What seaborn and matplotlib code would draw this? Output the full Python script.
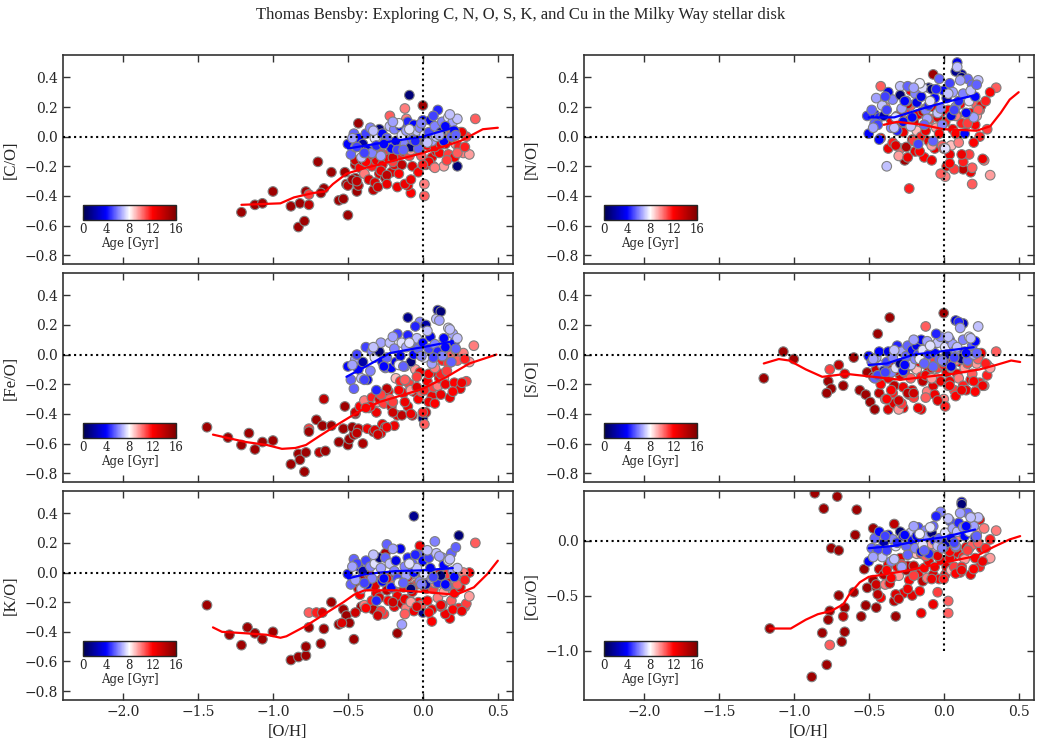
import numpy as np
import pandas as pd
import matplotlib
matplotlib.use("Agg")
import matplotlib.pyplot as plt
import seaborn as sns

sns.set_style("ticks")
plt.rcParams['font.family'] = ['DejaVu Serif']

TITLE = "Thomas Bensby: Exploring C, N, O, S, K, and Cu in the Milky Way stellar disk"
XLABEL = "[O/H]"
AGE_LABEL = "Age [Gyr]"
AGE_TICKS = [0, 4, 8, 12, 16]

# ---------------- young disk stars: [O/H] and age ----------------
young_oh = [-0.50, -0.48, -0.46, -0.45, -0.43, -0.41, -0.40, -0.38, -0.37, -0.35,
            -0.34, -0.32, -0.31, -0.29, -0.28, -0.27, -0.25, -0.24, -0.22, -0.21,
            -0.19, -0.18, -0.17, -0.15, -0.14, -0.12, -0.11, -0.10, -0.08, -0.07,
            -0.06, -0.04, -0.03, -0.02, 0.00, 0.01, 0.02, 0.04, 0.05, 0.06,
            0.08, 0.09, 0.10, 0.12, 0.13, 0.14, 0.16, 0.17, 0.19, 0.20,
            0.21, 0.23, -0.44, -0.16,
            -0.47, -0.39, -0.33, -0.26, -0.20, -0.13, -0.09, -0.05, -0.01, 0.03,
            0.07, 0.11, 0.15, 0.18, 0.22]
young_age = [4.0, 5.5, 5.5, 6.5, 4.0, 7.0, 2.0, 5.0, 3.5, 6.0,
             6.0, 7.5, 4.5, 1.0, 6.5, 4.0, 5.5, 5.5, 7.0, 4.0,
             6.0, 3.5, 5.0, 3.5, 7.5, 6.0, 6.5, 4.5, 1.0, 5.5,
             4.0, 7.0, 5.5, 6.0, 4.0, 7.5, 2.0, 5.0, 3.5, 6.5,
             6.0, 7.0, 4.5, 1.0, 6.0, 4.0, 5.5, 7.5, 5.5, 6.5,
             4.0, 7.0, 5.0, 7.8,
             6.5, 5.0, 7.0, 4.0, 6.5, 5.5, 7.5, 4.5, 6.0, 7.0,
             5.0, 6.5, 4.0, 7.0, 5.5]
young_co = [-0.05, -0.12, 0.02, -0.07, -0.01, -0.14, -0.05, 0.02, -0.09, 0.06,
            -0.11, -0.01, -0.06, 0.05, -0.13, 0.02, -0.03, -0.01, 0.07, -0.08,
            0.05, -0.03, -0.09, 0.07, 0.01, -0.05, 0.04, 0.10, -0.07, -0.02,
            0.08, 0.04, -0.08, 0.06, 0.11, 0.01, -0.03, 0.03, 0.11, -0.03,
            0.07, 0.00, 0.18, 0.03, 0.10, -0.03, 0.07, 0.13, 0.00, 0.10,
            0.04, 0.12, -0.07, 0.09,
            -0.01, -0.11, 0.04, -0.05, 0.10, -0.09, 0.05, -0.03, 0.09, -0.04,
            0.14, 0.01, 0.07, 0.15, 0.01]
young_no = [0.02, 0.18, 0.09, 0.26, -0.02, 0.21, 0.14, 0.18, 0.30, 0.06,
            0.25, 0.13, 0.04, 0.28, 0.19, 0.10, 0.24, 0.34, 0.07, 0.13,
            0.29, 0.23, -0.05, 0.27, 0.33, 0.18, 0.12, 0.21, 0.32, -0.03,
            0.26, 0.16, 0.39, 0.19, 0.31, -0.08, 0.26, 0.36, 0.14, 0.30,
            0.20, 0.47, 0.24, 0.40, 0.29, 0.02, 0.39, 0.24, 0.35, 0.13,
            0.27, 0.38, 0.08, 0.36,
            0.06, 0.27, 0.06, 0.24, 0.33, 0.08, 0.24, 0.32, 0.08, 0.29,
            0.18, 0.38, 0.16, 0.31, 0.35]
young_feo = [-0.08, -0.17, -0.23, -0.03, -0.10, -0.16, -0.05, 0.05, -0.17, -0.11,
             0.02, -0.02, -0.24, 0.02, 0.08, -0.05, -0.09, -0.02, 0.08, -0.09,
             0.04, -0.05, 0.14, -0.01, 0.08, -0.08, 0.05, 0.13, -0.05, 0.08,
             0.00, 0.11, 0.04, 0.22, 0.08, -0.02, 0.20, 0.04, 0.12, -0.06,
             0.07, 0.24, 0.02, 0.29, -0.01, 0.11, 0.05, 0.18, -0.05, 0.14,
             0.08, 0.11, 0.00, -0.07,
             -0.07, -0.17, 0.05, -0.08, 0.12, -0.08, 0.08, 0.19, -0.01, 0.16,
             -0.02, 0.23, 0.05, 0.17, 0.04]
young_so = [-0.01, -0.05, -0.16, -0.02, 0.02, -0.07, -0.11, -0.05, 0.02, -0.12,
            -0.02, -0.09, 0.06, -0.06, 0.02, -0.11, -0.01, 0.06, -0.07, 0.03,
            -0.03, 0.06, 0.00, 0.10, 0.03, -0.05, 0.09, 0.00, 0.06, -0.08,
            0.01, 0.08, -0.03, 0.12, -0.05, 0.05, 0.00, 0.10, -0.08, 0.07,
            0.03, 0.05, 0.22, -0.03, 0.10, 0.02, -0.04, 0.12, 0.06, 0.00,
            0.09, 0.19, -0.14, -0.03,
            -0.03, -0.12, 0.03, -0.07, 0.10, -0.06, 0.06, 0.14, -0.04, 0.12,
            -0.02, 0.18, 0.01, 0.11, 0.01]
young_ko = [-0.01, -0.08, 0.09, -0.05, 0.04, -0.11, 0.01, 0.08, -0.08, 0.04,
            -0.04, 0.06, -0.19, 0.10, 0.03, -0.06, 0.10, 0.19, 0.06, -0.10,
            0.01, 0.08, -0.04, 0.16, -0.07, 0.04, -0.02, 0.10, -0.11, 0.06,
            0.00, 0.03, 0.12, -0.06, 0.08, -0.01, -0.08, 0.10, 0.03, -0.04,
            0.21, 0.13, -0.07, -0.02, 0.10, 0.05, -0.09, 0.08, 0.13, 0.01,
            -0.03, 0.03, 0.06, -0.07,
            0.04, -0.07, 0.12, -0.04, 0.16, -0.07, 0.06, 0.12, -0.08, 0.15,
            -0.03, 0.11, -0.08, 0.09, 0.17]
young_cuo = [-0.19, -0.07, 0.02, -0.12, 0.08, -0.15, -0.02, -0.09, 0.05, -0.19,
             0.01, -0.05, -0.02, 0.08, -0.24, 0.04, -0.05, -0.13, 0.07, 0.00,
             -0.07, 0.04, 0.12, -0.10, -0.04, 0.09, 0.04, -0.12, 0.07, 0.13,
             0.00, -0.05, 0.02, 0.26, -0.06, 0.07, -0.02, 0.18, 0.02, 0.11,
             -0.05, 0.08, 0.16, 0.33, 0.12, 0.04, 0.25, 0.08, 0.21, 0.13,
             0.03, 0.21, -0.08, 0.06,
             -0.15, 0.04, -0.17, 0.05, 0.13, -0.09, 0.12, 0.22, -0.07, 0.20,
             -0.02, 0.25, 0.13, 0.21, 0.04]

# ---------------- old disk stars ----------------
old_oh = [-0.47, -0.45, -0.43, -0.42, -0.40, -0.39, -0.37, -0.36, -0.34, -0.33,
          -0.31, -0.30, -0.29, -0.27, -0.26, -0.25, -0.23, -0.22, -0.21, -0.19,
          -0.18, -0.17, -0.15, -0.14, -0.13, -0.11, -0.10, -0.09, -0.07, -0.06,
          -0.05, -0.03, -0.02, -0.01, 0.01, 0.02, 0.03, 0.05, 0.06, 0.07,
          0.09, 0.10, 0.11, 0.13, 0.14, 0.15, 0.17, 0.18, 0.19, 0.21,
          0.22, 0.24, 0.25, 0.27, 0.29, 0.31, -0.35, -0.28, -0.20, -0.12,
          -0.04, 0.04, 0.12, -0.24, -0.08, 0.08,
          -0.44, -0.38, -0.32, -0.28, -0.24, -0.20, -0.16, -0.12, -0.08, -0.04,
          0.00, 0.04, 0.08, 0.12, 0.16, 0.20, 0.23, 0.26, 0.28, -0.30]
old_age = [15.0, 13.5, 14.0, 12.0, 14.5, 10.0, 12.5, 13.0, 11.5, 14.0,
           12.5, 9.5, 13.0, 12.5, 11.0, 14.5, 12.0, 10.5, 13.0, 12.5,
           9.0, 12.5, 11.5, 14.0, 12.0, 10.0, 12.5, 11.0, 13.0, 12.5,
           9.5, 12.0, 12.5, 10.5, 11.5, 13.0, 12.0, 9.0, 12.5, 11.0,
           12.5, 10.0, 12.0, 11.5, 9.5, 12.5, 11.0, 12.5, 10.5, 12.0,
           9.5, 11.5, 12.5, 10.0, 11.0, 9.5, 12.0, 12.5, 11.0, 12.5,
           11.0, 12.5, 11.5, 14.0, 9.5, 12.0,
           14.0, 12.0, 13.0, 11.0, 12.5, 13.5, 12.0, 10.5, 12.5, 13.0,
           11.5, 12.0, 10.0, 12.5, 11.0, 12.0, 10.5, 12.5, 11.5, 13.5]
old_co = [-0.29, -0.16, -0.33, -0.21, -0.16, -0.25, -0.11, -0.29, -0.20, -0.36,
          -0.16, -0.11, -0.25, -0.19, -0.12, -0.28, -0.15, 0.14, -0.24, -0.19,
          -0.08, -0.34, -0.12, -0.19, -0.10, 0.12, -0.33, -0.13, -0.20, -0.06,
          -0.07, -0.24, -0.10, -0.13, -0.02, -0.19, -0.06, 0.01, -0.14, -0.20,
          -0.10, -0.02, -0.11, 0.00, -0.20, -0.05, -0.12, -0.02, 0.04, -0.14,
          -0.05, -0.07, 0.03, -0.11, 0.00, -0.12, -0.12, -0.23, -0.17, -0.32,
          -0.07, -0.17, 0.03, -0.26, -0.09, -0.07,
          -0.30, -0.17, -0.31, -0.12, -0.32, -0.14, -0.25, -0.05, -0.29, -0.07,
          -0.19, -0.02, -0.21, -0.05, -0.16, 0.00, -0.11, 0.03, -0.07, -0.34]
old_no = [np.nan, np.nan, np.nan, -0.01, np.nan, 0.20, -0.08, np.nan, -0.04, np.nan,
          0.14, -0.13, 0.08, 0.03, 0.18, -0.07, 0.11, 0.21, -0.02, -0.10,
          0.04, 0.15, 0.00, 0.17, -0.14, 0.09, -0.03, 0.12, 0.20, -0.08,
          0.06, 0.02, 0.16, -0.06, 0.10, -0.20, 0.18, -0.06, 0.05, -0.22,
          0.14, -0.04, 0.22, -0.17, 0.11, 0.08, -0.12, 0.16, -0.21, 0.08,
          0.14, 0.00, 0.21, -0.16, 0.05, -0.26, 0.11, 0.18, -0.03, 0.04,
          0.15, -0.12, 0.09, 0.22, -0.06, 0.02,
          np.nan, np.nan, -0.06, 0.16, -0.14, 0.10, -0.10, 0.19, -0.16, 0.13,
          -0.08, -0.18, 0.14, -0.12, 0.09, -0.04, 0.18, -0.15, 0.24, 0.14]
old_feo = [-0.49, -0.39, -0.50, -0.35, -0.60, -0.31, -0.50, -0.36, -0.29, -0.52,
           -0.39, -0.32, -0.30, -0.47, -0.33, -0.49, -0.25, -0.30, -0.35, -0.48,
           -0.16, -0.41, -0.18, -0.41, -0.26, -0.18, -0.35, -0.20, -0.41, -0.25,
           -0.10, -0.30, -0.12, -0.25, -0.24, -0.39, -0.18, 0.00, -0.28, -0.22,
           -0.12, -0.21, -0.16, -0.04, -0.16, -0.20, -0.06, -0.29, 0.00, -0.19,
           0.03, 0.00, -0.23, 0.01, -0.18, -0.05, -0.35, -0.53, -0.32, -0.32,
           -0.15, -0.32, -0.13, -0.23, -0.24, -0.33,
           -0.53, -0.36, -0.51, -0.27, -0.49, -0.39, -0.24, -0.17, -0.40, -0.22,
           -0.39, -0.13, -0.09, -0.27, -0.11, -0.25, -0.04, -0.19, -0.03, -0.54]
old_so = [-0.15, -0.10, -0.26, -0.20, -0.12, -0.30, -0.16, -0.06, -0.26, -0.21,
          -0.09, -0.37, -0.14, -0.22, -0.12, -0.07, -0.27, -0.16, -0.24, -0.09,
          -0.10, -0.36, -0.15, -0.18, -0.06, -0.25, -0.11, -0.04, -0.21, -0.27,
          -0.16, -0.08, -0.18, -0.06, -0.35, -0.12, -0.21, -0.09, -0.03, -0.24,
          -0.13, -0.16, -0.05, -0.21, -0.09, -0.24, -0.03, -0.17, -0.13, -0.25,
          -0.06, -0.19, 0.01, -0.21, -0.07, -0.09, -0.24, -0.10, -0.29, -0.14,
          -0.09, -0.18, -0.02, -0.26, -0.16, -0.28,
          -0.15, -0.30, -0.11, -0.33, -0.08, -0.26, -0.05, -0.29, -0.09, -0.31,
          -0.07, -0.21, -0.04, -0.24, -0.06, -0.18, -0.03, -0.21, -0.06, -0.31]
old_ko = [-0.07, -0.27, -0.11, -0.15, -0.03, -0.22, -0.09, -0.01, -0.19, -0.25,
          -0.14, -0.06, -0.17, -0.04, -0.28, 0.13, -0.19, -0.08, -0.02, -0.23,
          -0.12, -0.16, -0.05, -0.21, -0.10, -0.24, -0.03, -0.18, -0.13, -0.26,
          -0.07, -0.20, 0.18, -0.22, -0.09, -0.11, -0.19, -0.05, -0.25, -0.11,
          -0.07, -0.17, -0.01, -0.22, -0.13, -0.28, -0.09, -0.03, -0.19, -0.14,
          -0.06, -0.24, -0.10, 0.00, -0.21, -0.16, -0.04, -0.26, -0.10, -0.18,
          -0.08, -0.02, -0.23, -0.12, -0.20, -0.05,
          -0.06, -0.24, -0.09, -0.26, -0.04, -0.20, -0.02, -0.28, -0.10, -0.23,
          -0.03, -0.27, -0.07, -0.22, -0.01, -0.25, -0.08, -0.26, -0.05, -0.29]
old_cuo = [-0.36, -0.40, -0.26, -0.52, -0.31, -0.40, -0.22, -0.39, -0.33, -0.55,
           -0.24, -0.32, -0.16, -0.48, -0.25, -0.27, -0.36, -0.11, -0.50, -0.25,
           -0.12, -0.31, -0.12, -0.37, -0.25, -0.34, -0.19, -0.12, -0.31, -0.24,
           -0.06, -0.35, -0.18, 0.02, -0.31, -0.24, -0.09, -0.27, -0.14, -0.24,
           -0.11, 0.04, -0.29, -0.15, -0.17, -0.06, -0.07, -0.31, -0.04, -0.16,
           0.07, -0.24, -0.07, 0.11, -0.17, -0.16, -0.34, -0.22, -0.32, -0.14,
           -0.47, -0.16, -0.24, -0.23, -0.03, -0.30,
           -0.49, -0.27, -0.49, -0.22, -0.44, -0.23, -0.46, -0.14, -0.35, -0.14,
           -0.35, -0.10, -0.06, -0.27, -0.09, -0.26, -0.02, -0.19, -0.07, -0.53]

# ---------------- metal-poor stars and outliers, per panel ----------------
co_extra_oh = [-1.21, -1.12, -1.07, -1.00, -0.88, -0.82, -0.76, -0.83, -0.79, -0.78, -0.76, -0.70, -0.66,
               -0.68, -0.61, -0.52, -0.51, -0.56, -0.53, -0.50, -0.44, -0.50, -0.45, -0.45, -0.43,
               0.23, -0.09, 0.35, 0.00, -0.12, 0.01, 0.01, -0.08]
co_extra_val = [-0.51, -0.46, -0.45, -0.37, -0.47, -0.45, -0.46, -0.61, -0.57, -0.37, -0.39, -0.17, -0.35,
                -0.38, -0.24, -0.24, -0.32, -0.43, -0.42, -0.53, -0.37, -0.33, -0.28, -0.19, 0.09,
                -0.20, 0.28, 0.12, 0.21, 0.19, -0.40, -0.32, -0.38]
co_extra_age = [15, 15, 15, 15, 15, 15, 14, 15, 15, 15, 11, 15, 15, 15, 15, 15, 15, 15, 15, 15, 15, 14, 15, 14, 15,
                1, 1, 10.5, 15, 10, 10.5, 10, 12]

no_extra_oh = [-0.42, -0.29, -0.22, -0.38, -0.23, -0.26, -0.29, -0.07, 0.09, 0.19, 0.18, 0.13, 0.01, -0.02,
               0.35, 0.31, 0.24, 0.22, -0.51, -0.46, -0.43, -0.10, 0.12, 0.08]
no_extra_val = [0.34, 0.34, 0.31, -0.20, -0.35, -0.16, -0.08, 0.42, 0.50, -0.32, -0.24, -0.22, -0.27, -0.25,
                0.33, 0.30, 0.18, 0.21, 0.14, 0.15, 0.13, 0.33, 0.42, 0.44]
no_extra_age = [10.5, 7, 12, 7, 11.5, 15, 10.5, 15, 3.5, 10.5, 12.5, 14, 10, 10.5,
                10.5, 12, 10.5, 10.5, 4.5, 4, 4.5, 1, 2, 1.5]

feo_extra_oh = [-1.44, -1.30, -1.21, -1.16, -1.12, -1.07, -1.00, -0.88, -0.83, -0.82, -0.79, -0.78, -0.76, -0.76,
                -0.69, -0.65, -0.71, -0.67, -0.66, -0.61, -0.56, -0.53, -0.52, -0.50, -0.49, -0.46, -0.45,
                0.34, 0.00, 0.01, 0.10, -0.45, -0.10]
feo_extra_val = [-0.49, -0.56, -0.61, -0.53, -0.64, -0.59, -0.58, -0.74, -0.67, -0.71, -0.79, -0.66, -0.50, -0.52,
                 -0.66, -0.65, -0.44, -0.48, -0.30, -0.48, -0.59, -0.50, -0.35, -0.61, -0.57, -0.54, -0.40,
                 0.06, -0.43, -0.47, 0.30, -0.07, 0.25]
feo_extra_age = [15, 15, 15, 15, 15, 15, 15, 15, 15, 15, 15, 15, 11, 15, 14, 15, 15, 15, 14, 15, 15, 15, 15, 15, 15, 14, 15,
                 10, 1, 10.5, 1.5, 10.5, 1.5]

so_extra_oh = [-1.20, -1.07, -1.00, -0.76, -0.70, -0.77, -0.75, -0.78, -0.66, -0.67, -0.60, -0.56, -0.52, -0.49,
               -0.46, -0.51, -0.44, -0.36, -0.37, -0.33, -0.27, -0.15, 0.00,
               0.35, 0.29, -0.12, 0.08, 0.13, 0.00]
so_extra_val = [-0.16, 0.02, -0.03, -0.10, -0.07, -0.18, -0.23, -0.26, -0.13, -0.21, -0.02, -0.24, -0.27, -0.32,
                -0.37, -0.12, 0.14, 0.25, -0.37, -0.33, -0.36, -0.37, 0.28,
                0.02, -0.14, 0.19, 0.23, 0.21, -0.30]
so_extra_age = [15, 15, 15, 11, 14, 15, 15, 15, 13, 15, 15, 15, 15, 15, 15, 15, 15, 15, 13, 13, 12.5, 12.5, 15,
                10.5, 11.5, 10.5, 3, 2.5, 10]

ko_extra_oh = [-1.44, -1.29, -1.21, -1.17, -1.12, -1.07, -1.00, -0.88, -0.83, -0.78, -0.78, -0.76, -0.76, -0.71,
               -0.67, -0.68, -0.66, -0.61, -0.56, -0.53, -0.51, -0.49, -0.54, -0.46, -0.41,
               -0.06, 0.24, 0.35, 0.31, 0.28, -0.17, -0.14, 0.06, 0.18, 0.00]
ko_extra_val = [-0.22, -0.42, -0.49, -0.37, -0.41, -0.45, -0.40, -0.59, -0.57, -0.56, -0.50, -0.27, -0.37, -0.27,
                -0.27, -0.48, -0.38, -0.20, -0.35, -0.25, -0.29, -0.34, -0.34, -0.45, -0.23,
                0.38, 0.25, 0.20, 0.00, -0.23, -0.41, -0.35, -0.33, -0.31, -0.27]
ko_extra_age = [15, 15, 15, 15, 15, 15, 15, 15, 15, 15, 15, 10.5, 15, 11.5, 13, 15, 15, 15, 15, 15, 15, 15, 13, 15, 15,
                1.5, 1, 10.5, 12, 10.5, 15, 6.5, 12, 12.5, 1.5]

cuo_extra_oh = [-1.16, -0.86, -0.71, -0.80, -0.58, -0.59, -0.75, -0.70, -0.53, -0.70, -0.60, -0.76, -0.66, -0.67,
                -0.77, -0.81, -0.66, -0.76, -0.68, -0.78, -0.88, -0.55, -0.52, -0.51, -0.45, -0.45, -0.32, -0.47, -0.33,
                0.03, 0.03, -0.07, 0.35, 0.12, 0.24, 0.31, -0.15]
cuo_extra_val = [-0.80, 0.43, 0.40, 0.29, 0.28, 0.05, -0.07, -0.09, -0.26, -0.50, -0.47, -0.64, -0.61, -0.69,
                 -0.72, -0.84, -0.83, -0.95, -0.92, -1.13, -1.24, -0.69, -0.59, -0.43, -0.61, -0.42, -0.69, 0.11, 0.15,
                 -0.55, -0.66, -0.58, 0.09, 0.35, 0.19, 0.01, -0.66]
cuo_extra_age = [15, 15, 15, 15, 15, 15, 15, 15, 15, 15, 15, 15, 15, 14, 15, 15, 15, 10.5, 15, 15, 15, 15, 15, 15, 15, 15, 15, 15, 14,
                 10.5, 10.5, 12.5, 10, 2.5, 12.5, 11.5, 12.5]

# ---------------- running-mean trends (young = blue, old = red) ----------------
co_blue_x = [-0.50, -0.38, -0.20, 0.00, 0.20]
co_blue_y = [-0.08, -0.06, -0.03, 0.00, 0.06]
co_red_x = [-1.21, -0.95, -0.86, -0.73, -0.65, -0.60, -0.51, -0.38, -0.26, 0.00, 0.25, 0.40, 0.50]
co_red_y = [-0.46, -0.45, -0.41, -0.38, -0.37, -0.32, -0.25, -0.21, -0.18, -0.11, -0.03, 0.05, 0.06]

no_blue_x = [-0.50, -0.33, -0.14, 0.00, 0.21]
no_blue_y = [0.13, 0.13, 0.19, 0.23, 0.28]
no_red_x = [-0.40, -0.31, -0.14, 0.00, 0.22, 0.31, 0.38, 0.44, 0.50]
no_red_y = [0.08, 0.10, 0.08, 0.05, 0.04, 0.07, 0.16, 0.25, 0.30]

feo_blue_x = [-0.51, -0.38, -0.22, -0.06, 0.00, 0.20]
feo_blue_y = [-0.15, -0.08, 0.01, 0.04, 0.05, 0.09]
feo_red_x = [-1.40, -1.18, -1.04, -0.94, -0.85, -0.78, -0.69, -0.55, -0.42, -0.29, -0.06, 0.00, 0.16, 0.31, 0.49]
feo_red_y = [-0.54, -0.59, -0.61, -0.636, -0.63, -0.61, -0.55, -0.46, -0.38, -0.32, -0.25, -0.23, -0.15, -0.06, 0.00]

so_blue_x = [-0.50, -0.38, -0.20, -0.03, 0.20]
so_blue_y = [-0.07, -0.06, 0.00, 0.02, 0.05]
so_red_x = [-1.20, -1.10, -1.03, -0.92, -0.81, -0.65, -0.47, -0.29, -0.12, 0.06, 0.24, 0.35, 0.45, 0.51]
so_red_y = [-0.06, -0.03, -0.04, -0.10, -0.15, -0.13, -0.15, -0.17, -0.15, -0.13, -0.10, -0.07, -0.04, -0.05]

ko_blue_x = [-0.50, -0.38, -0.18, 0.00, 0.20]
ko_blue_y = [-0.04, -0.01, 0.01, 0.015, 0.03]
ko_red_x = [-1.40, -1.34, -1.18, -1.04, -0.95, -0.91, -0.78, -0.64, -0.53, -0.46, -0.39, -0.18, 0.00, 0.22, 0.34, 0.43, 0.50]
ko_red_y = [-0.37, -0.40, -0.41, -0.42, -0.44, -0.43, -0.36, -0.27, -0.20, -0.15, -0.12, -0.12, -0.13, -0.15, -0.10, -0.01, 0.08]

cuo_blue_x = [-0.50, -0.34, -0.16, 0.00, 0.21]
cuo_blue_y = [-0.07, -0.05, 0.00, 0.03, 0.10]
cuo_red_x = [-1.16, -1.02, -0.92, -0.84, -0.75, -0.67, -0.63, -0.56, -0.50, -0.45, -0.23, 0.00, 0.22, 0.33, 0.44, 0.51]
cuo_red_y = [-0.80, -0.80, -0.72, -0.67, -0.64, -0.58, -0.49, -0.38, -0.33, -0.32, -0.27, -0.20, -0.14, -0.06, 0.01, 0.04]

panels = [
    ("[C/O]", young_co, old_co, co_extra_oh, co_extra_val, co_extra_age, co_blue_x, co_blue_y, co_red_x, co_red_y),
    ("[N/O]", young_no, old_no, no_extra_oh, no_extra_val, no_extra_age, no_blue_x, no_blue_y, no_red_x, no_red_y),
    ("[Fe/O]", young_feo, old_feo, feo_extra_oh, feo_extra_val, feo_extra_age, feo_blue_x, feo_blue_y, feo_red_x, feo_red_y),
    ("[S/O]", young_so, old_so, so_extra_oh, so_extra_val, so_extra_age, so_blue_x, so_blue_y, so_red_x, so_red_y),
    ("[K/O]", young_ko, old_ko, ko_extra_oh, ko_extra_val, ko_extra_age, ko_blue_x, ko_blue_y, ko_red_x, ko_red_y),
    ("[Cu/O]", young_cuo, old_cuo, cuo_extra_oh, cuo_extra_val, cuo_extra_age, cuo_blue_x, cuo_blue_y, cuo_red_x, cuo_red_y),
]

fig, axes = plt.subplots(3, 2, figsize=(10.42, 7.45), dpi=100, sharex=True)
fig.subplots_adjust(left=0.0605, right=0.992, bottom=0.0604, top=0.926, hspace=0.043, wspace=0.158)

norm = plt.Normalize(0, 16)
for i, (lab, yv, ov, ex, ey, ea, bx, by, rx, ry) in enumerate(panels):
    ax = axes.flat[i]
    df = pd.DataFrame({
        "oh": list(ex) + list(old_oh) + list(young_oh),
        "val": list(ey) + list(ov) + list(yv),
        "age": list(ea) + list(old_age) + list(young_age),
    }).dropna()
    sns.scatterplot(data=df, x="oh", y="val", hue="age", palette="seismic", hue_norm=(0, 16),
                    s=48, edgecolor="0.5", linewidth=0.8, legend=False, ax=ax, zorder=2)
    sns.lineplot(x=bx, y=by, color="blue", lw=1.6, ax=ax, sort=False, estimator=None, zorder=3)
    sns.lineplot(x=rx, y=ry, color="red", lw=1.6, ax=ax, sort=False, estimator=None, zorder=3)
    ax.axhline(0, color="k", ls=":", lw=1.5, zorder=4)
    ax.vlines(0, -1.0, 0.6, colors="k", linestyles=":", lw=1.5, zorder=4)

    ax.set_xlim(-2.4, 0.6)
    ax.set_xticks([-2.0, -1.5, -1.0, -0.5, 0.0, 0.5])
    if lab == "[Cu/O]":
        ax.set_ylim(-1.45, 0.45)
        ax.set_yticks([-1.0, -0.5, 0.0])
    else:
        ax.set_ylim(-0.86, 0.55)
        ax.set_yticks([-0.8, -0.6, -0.4, -0.2, 0.0, 0.2, 0.4])
    ax.set_ylabel(lab, fontfamily="Liberation Serif", fontsize=12)
    if i >= 4:
        ax.set_xlabel(XLABEL, fontfamily="Liberation Serif", fontsize=12)
    else:
        ax.set_xlabel("")
    ax.tick_params(direction="in", top=True, right=True, length=5, width=1, labelsize=10, color="0.2")
    for sp in ax.spines.values():
        sp.set_color("0.2")
        sp.set_linewidth(1.2)

    cax = ax.inset_axes([0.044, 0.21, 0.207, 0.072])
    sm = plt.cm.ScalarMappable(cmap="seismic", norm=norm)
    cb = fig.colorbar(sm, cax=cax, orientation="horizontal", ticks=AGE_TICKS)
    cb.ax.tick_params(labelsize=8.5, direction="in", length=3, pad=2)
    cb.set_label(AGE_LABEL, fontsize=8.5, labelpad=1)
    cb.outline.set_linewidth(1.0)

fig.suptitle(TITLE, fontfamily="Liberation Serif", fontsize=12, y=0.98, va="center")
fig.savefig("out.png", dpi=100)
